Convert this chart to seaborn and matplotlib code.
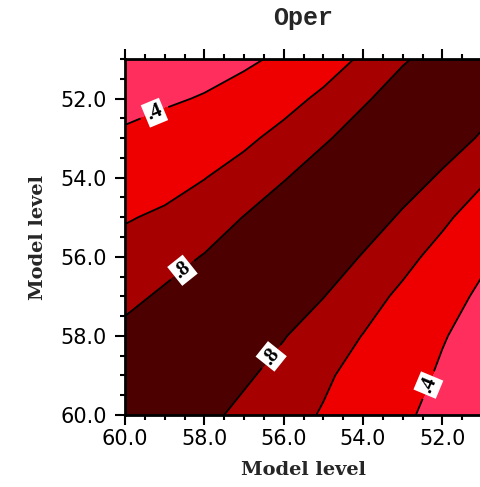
import numpy as np
import matplotlib
matplotlib.use("Agg")
import matplotlib.pyplot as plt
from matplotlib.ticker import MultipleLocator, FixedLocator
import seaborn as sns

# Model levels
levels_model = [51, 52, 53, 54, 55, 56, 57, 58, 59, 60]

# Correlation between model levels (symmetric), one row per level
row_51 = [1.00, 0.86, 0.785, 0.63, 0.50, 0.42, 0.38, 0.34, 0.33, 0.32]
row_52 = [0.86, 1.00, 0.87, 0.78, 0.64, 0.53, 0.445, 0.41, 0.38, 0.36]
row_53 = [0.785, 0.87, 1.00, 0.87, 0.78, 0.66, 0.56, 0.48, 0.46, 0.42]
row_54 = [0.63, 0.78, 0.87, 1.00, 0.88, 0.79, 0.68, 0.595, 0.53, 0.51]
row_55 = [0.50, 0.64, 0.78, 0.88, 1.00, 0.89, 0.805, 0.70, 0.63, 0.585]
row_56 = [0.42, 0.53, 0.66, 0.79, 0.89, 1.00, 0.90, 0.81, 0.73, 0.67]
row_57 = [0.38, 0.445, 0.56, 0.68, 0.805, 0.90, 1.00, 0.91, 0.83, 0.75]
row_58 = [0.34, 0.41, 0.48, 0.595, 0.70, 0.81, 0.91, 1.00, 0.92, 0.85]
row_59 = [0.33, 0.38, 0.46, 0.53, 0.63, 0.73, 0.83, 0.92, 1.00, 0.93]
row_60 = [0.32, 0.36, 0.42, 0.51, 0.585, 0.67, 0.75, 0.85, 0.93, 1.00]

labelled_levels = [0.4, 0.8]
plain_levels = [0.6]
fill_levels = [0.0, 0.4, 0.6, 0.8, 1.01]
fill_colors = ["#FF2E5C", "#EE0000", "#A60000", "#4C0000"]
label_text = {0.4: ".4", 0.8: ".8"}

xticks = [60, 58, 56, 54, 52]
yticks = [52, 54, 56, 58, 60]
tick_labels_x = ["60.0", "58.0", "56.0", "54.0", "52.0"]
tick_labels_y = ["52.0", "54.0", "56.0", "58.0", "60.0"]

sns.set_theme(style="ticks")
plt.rcParams["font.family"] = ["DejaVu Sans"]

Z = np.array([row_51, row_52, row_53, row_54, row_55,
              row_56, row_57, row_58, row_59, row_60])
X, Y = np.meshgrid(levels_model, levels_model)

W, H = 481, 487
fig = plt.figure(figsize=(W / 100, H / 100), dpi=100)
ax = fig.add_axes([125 / W, (H - 415) / H, 357 / W, 356 / H])

ax.contourf(X, Y, Z, levels=fill_levels, colors=fill_colors)
ax.contour(X, Y, Z, levels=plain_levels, colors="black", linewidths=1.3)
cs = ax.contour(X, Y, Z, levels=labelled_levels, colors="black", linewidths=1.3)

ax.set_xlim(60, 51)
ax.set_ylim(60, 51)

manual_pos = [(59.24, 52.4), (58.6, 56.28), (56.3, 58.53), (52.36, 59.24)]
texts = ax.clabel(cs, manual=manual_pos, inline=True,
                  inline_spacing=5, fmt=label_text, fontsize=15, colors="black")
for t in texts:
    t.set_family("Liberation Serif")
    t.set_fontweight("bold")
    t.set_bbox(dict(facecolor="white", edgecolor="none", pad=1.5))

ax.xaxis.set_major_locator(FixedLocator(xticks))
ax.yaxis.set_major_locator(FixedLocator(yticks))
ax.set_xticklabels(tick_labels_x)
ax.set_yticklabels(tick_labels_y)
ax.xaxis.set_minor_locator(MultipleLocator(0.5))
ax.yaxis.set_minor_locator(MultipleLocator(0.5))
ax.tick_params(which="both", direction="out", top=True, right=True,
               labeltop=False, labelright=False, width=1.5, colors="black")
ax.tick_params(which="major", length=7, labelsize=15)
ax.tick_params(which="minor", length=3.6)
ax.tick_params(axis="x", which="major", pad=3)
ax.tick_params(axis="y", which="major", pad=6)
for s in ax.spines.values():
    s.set_linewidth(2)
    s.set_color("black")

ax.set_xlabel("Model level", fontsize=14, fontweight="bold",
              family="DejaVu Serif", labelpad=9)
ax.set_ylabel("Model level", fontsize=14, fontweight="bold",
              family="DejaVu Serif", labelpad=10)
fig.text(303 / W, 1 - 18 / H, "Oper", ha="center", va="center",
         fontsize=18, family="Liberation Mono", fontweight="bold")

fig.savefig("out.png", dpi=100)
